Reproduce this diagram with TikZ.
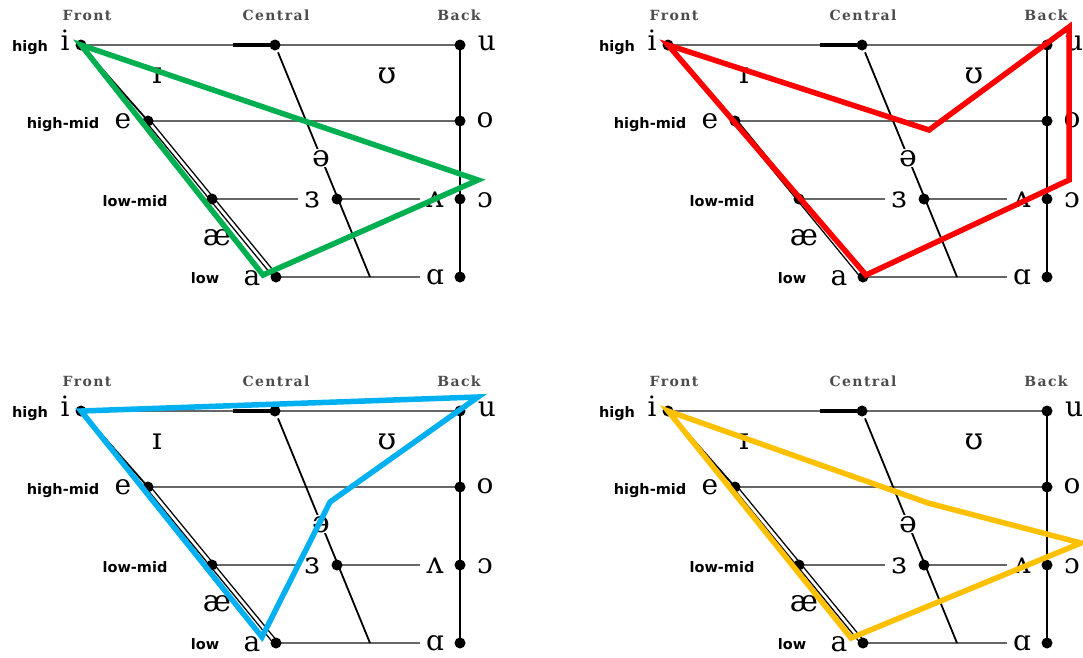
\documentclass[tikz,border=0pt]{standalone}
\usepackage{fontspec}
\setmainfont{DejaVu Serif}
\newfontfamily\levelfont{DejaVu Sans}
\newfontfamily\headfont[LetterSpace=10]{DejaVu Serif}

\definecolor{routegreen}{RGB}{0,176,80}
\definecolor{routered}{RGB}{255,0,0}
\definecolor{routeblue}{RGB}{0,176,240}
\definecolor{routeyellow}{RGB}{255,192,0}

\tikzstyle{vdot} = [circle, fill=black, inner sep=0pt, minimum size=11pt]
\tikzstyle{vowel} = [anchor=base, inner sep=1pt, font=\fontsize{28}{32}\selectfont]
\tikzstyle{ivowel} = [vowel, font=\fontsize{30}{34}\selectfont]
\tikzstyle{levellabel} = [anchor=base, inner sep=0pt, font=\levelfont\bfseries\fontsize{14.5}{17}\selectfont]
\tikzstyle{colhead} = [anchor=base, inner sep=0pt, text=black!70, font=\headfont\bfseries\fontsize{14}{16}\selectfont]
\tikzstyle{gridline} = [draw=black!60, line width=2.4pt]
\tikzstyle{edgeline} = [draw=black, line width=1.8pt]
\tikzstyle{route} = [line width=5.5pt, line join=miter]

\begin{document}
\begin{tikzpicture}[x=1pt, y=-1pt]
    \useasboundingbox (0,0) rectangle (1083,657);

    \foreach \p/\dx/\dy in {A/0/0, B/587/0, C/0/366, D/587/366} {
    \begin{scope}[shift={(\dx,\dy)}]
        % positions of the dots
        \coordinate (\p-i) at (81,45);
        \coordinate (\p-c) at (275,45);
        \coordinate (\p-u) at (460,45);
        \coordinate (\p-e) at (148,121);
        \coordinate (\p-o) at (460,121);
        \coordinate (\p-lf) at (212,199);
        \coordinate (\p-lc) at (337,199);
        \coordinate (\p-lb) at (460,199);
        \coordinate (\p-a) at (276,277);
        \coordinate (\p-ab) at (460,277);
        \coordinate (\p-stub) at (233,45);
        \coordinate (\p-cfoot) at (370,277);

        \node[colhead] (\p-front) at (87,20) {Front};
        \node[colhead] (\p-central) at (276,20) {Central};
        \node[colhead] (\p-back) at (459,20) {Back};

        \node[levellabel] (\p-high) at (30,51) {high};
        \node[levellabel] (\p-highmid) at (63,128) {high-mid};
        \node[levellabel] (\p-lowmid) at (135,206) {low-mid};
        \node[levellabel] (\p-low) at (205,283) {low};

        \node[vowel] (\p-vi) at (65,50) {i};
        \node[vowel] (\p-ve) at (123,128) {e};
        \node[vowel] (\p-va) at (252,285) {a};
        \node[vowel] (\p-vu) at (487,50) {u};
        \node[vowel] (\p-vo) at (485,127) {o};
        \node[vowel] (\p-vop) at (485,207) {ɔ};
        \node[vowel] (\p-vaa) at (435,284) {ɑ};
        \node[ivowel] (\p-vwedge) at (435,207) {ʌ};
        \node[ivowel] (\p-ver) at (312,207) {ɜ};
        \node[ivowel] (\p-vii) at (157,83) {ɪ};
        \node[ivowel] (\p-vuu) at (387,83) {ʊ};
        \node[ivowel] (\p-vae) at (217,245) {æ};

        % grid
        \draw[gridline] (\p-i) -- (\p-u);
        \draw[draw=black, line width=3.2pt] (\p-stub) -- (\p-c);
        \draw[gridline] (\p-e) -- (\p-o);
        \draw[gridline, shorten >=5pt] (\p-lf) -- (\p-ver.west |- \p-lf);
        \draw[gridline, shorten >=5pt] (\p-lc) -- (\p-vwedge.west |- \p-lc);
        \draw[gridline, shorten >=5pt] (\p-a) -- (\p-vaa.west |- \p-a);
        \draw[edgeline] (\p-u) -- (\p-ab);
        \draw[edgeline, shorten <=8pt] (\p-c) -- (\p-cfoot);
        \draw[edgeline] (\p-i) -- (\p-e);
        \draw[draw=black, line width=1.4pt, double=white, double distance=2.6pt] (\p-e) -- (\p-a);
        \node[ivowel, fill=white] (\p-vschwa) at (321,166) {ə};

        \foreach \d in {i, c, u, e, o, lf, lc, lb, a, ab}
            \node[vdot] (\p-\d dot) at (\p-\d) {};
    \end{scope}
    }

    % vowel routes
    \begin{scope}
        \coordinate (A-r1) at (478,180);
        \coordinate (A-r2) at (263,275);
        \draw[route, routegreen] (A-idot.center) -- (A-r1) -- (A-r2) -- cycle;
    \end{scope}
    \begin{scope}[shift={(587,0)}]
        \coordinate (B-r1) at (342,130);
        \coordinate (B-r2) at (482,27);
        \coordinate (B-r3) at (482,180);
        \coordinate (B-r4) at (279,275);
        \draw[route, routered] (B-idot.center) -- (B-r1) -- (B-r2) -- (B-r3) -- (B-r4) -- cycle;
    \end{scope}
    \begin{scope}[shift={(0,366)}]
        \coordinate (C-r1) at (478,31);
        \coordinate (C-r2) at (330,136);
        \coordinate (C-r3) at (262,271);
        \draw[route, routeblue] (C-idot.center) -- (C-r1) -- (C-r2) -- (C-r3) -- cycle;
    \end{scope}
    \begin{scope}[shift={(587,366)}]
        \coordinate (D-r1) at (341,137);
        \coordinate (D-r2) at (494,177);
        \coordinate (D-r3) at (264,272);
        \draw[route, routeyellow] (D-idot.center) -- (D-r1) -- (D-r2) -- (D-r3) -- cycle;
    \end{scope}
\end{tikzpicture}
\end{document}
